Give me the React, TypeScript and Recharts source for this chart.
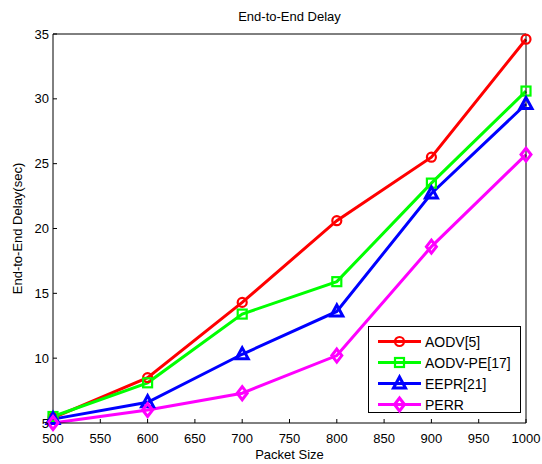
import React from 'react';
import { LineChart, Line, XAxis, YAxis } from 'recharts';

const packetSizes = [500, 600, 700, 800, 900, 1000];
const aodv = [5.4, 8.5, 14.3, 20.6, 25.5, 34.6];
const aodvPe = [5.5, 8.1, 13.4, 15.9, 23.5, 30.6];
const eepr = [5.3, 6.6, 10.3, 13.6, 22.7, 29.6];
const perr = [5.0, 6.0, 7.3, 10.2, 18.6, 25.7];

const xTicks = [500, 550, 600, 650, 700, 750, 800, 850, 900, 950, 1000];
const yTicks = [5, 10, 15, 20, 25, 30, 35];

const FONT = '"Liberation Sans", Arial, sans-serif';

type Marker = 'circle' | 'square' | 'triangle' | 'diamond';

const series: { key: string; name: string; color: string; marker: Marker }[] = [
  { key: 'aodv', name: 'AODV[5]', color: '#ff0000', marker: 'circle' },
  { key: 'aodvPe', name: 'AODV-PE[17]', color: '#00ff00', marker: 'square' },
  { key: 'eepr', name: 'EEPR[21]', color: '#0000ff', marker: 'triangle' },
  { key: 'perr', name: 'PERR', color: '#ff00ff', marker: 'diamond' },
];

const data = packetSizes.map((size, i) => ({
  size,
  aodv: aodv[i],
  aodvPe: aodvPe[i],
  eepr: eepr[i],
  perr: perr[i],
}));

function markerShape(marker: Marker, cx: number, cy: number, color: string, key?: React.Key) {
  const common = { stroke: color, strokeWidth: 2.2, fill: 'none' };
  switch (marker) {
    case 'circle':
      return <circle key={key} cx={cx} cy={cy} r={4.5} {...common} />;
    case 'square':
      return <rect key={key} x={cx - 4.5} y={cy - 4.5} width={9} height={9} {...common} />;
    case 'triangle':
      return (
        <polygon
          key={key}
          points={`${cx},${cy - 6.5} ${cx - 6},${cy + 4.5} ${cx + 6},${cy + 4.5}`}
          {...common}
          strokeWidth={3}
        />
      );
    default:
      return (
        <polygon
          key={key}
          points={`${cx},${cy - 6.5} ${cx + 5},${cy} ${cx},${cy + 6.5} ${cx - 5},${cy}`}
          {...common}
          strokeWidth={3}
        />
      );
  }
}

const makeDot = (marker: Marker, color: string) => (props: any) =>
  markerShape(marker, props.cx, props.cy, color, `${marker}-${props.index}`);

const ChartLegend = () => (
  <div
    style={{
      position: 'absolute',
      left: 368,
      top: 326,
      width: 153,
      height: 87,
      boxSizing: 'border-box',
      border: '1px solid #000',
      background: '#fff',
      paddingTop: 4,
      fontFamily: FONT,
      fontSize: 14,
    }}
  >
    {series.map((s) => (
      <div key={s.key} style={{ display: 'flex', alignItems: 'center', height: 21 }}>
        <svg width={56} height={21} style={{ flex: 'none' }}>
          <line x1={9} y1={10.5} x2={52} y2={10.5} stroke={s.color} strokeWidth={3} />
          {markerShape(s.marker, 30.5, 10.5, s.color)}
        </svg>
        <span>{s.name}</span>
      </div>
    ))}
  </div>
);

export default function App() {
  const tickStyle = { fontFamily: FONT, fontSize: 13, fill: '#000' };
  const labelStyle = { fontFamily: FONT, fontSize: 13, fill: '#000' };
  return (
    <div style={{ position: 'absolute', left: 0, top: 0, width: 542, height: 464, background: '#fff' }}>
      <LineChart
        width={542}
        height={464}
        data={data}
        margin={{ top: 33, right: 15, bottom: 40, left: 52 }}
      >
        <XAxis
          dataKey="size"
          type="number"
          domain={[500, 1000]}
          ticks={xTicks}
          height={1}
          tickSize={-4}
          tickMargin={15}
          tick={tickStyle}
          axisLine={{ stroke: '#000' }}
          tickLine={{ stroke: '#000' }}
          label={{ value: 'Packet Size', position: 'bottom', offset: 26, style: labelStyle }}
        />
        <XAxis
          xAxisId="top"
          orientation="top"
          dataKey="size"
          type="number"
          domain={[500, 1000]}
          ticks={xTicks}
          height={1}
          tickSize={-4}
          tick={false}
          axisLine={{ stroke: '#000' }}
          tickLine={{ stroke: '#000' }}
          label={{ value: 'End-to-End Delay', position: 'top', offset: 12, style: labelStyle }}
        />
        <YAxis
          type="number"
          domain={[5, 35]}
          ticks={yTicks}
          width={1}
          tickSize={-4}
          tickMargin={8}
          tick={tickStyle}
          axisLine={{ stroke: '#000' }}
          tickLine={{ stroke: '#000' }}
          label={{
            value: 'End-to-End Delay(sec)',
            content: (p: any) => {
              const vb = p.viewBox || { x: 53, y: 34, height: 389 };
              const x = 17.5;
              const y = vb.y + vb.height / 2;
              return (
                <text
                  x={x}
                  y={y}
                  transform={`rotate(-90 ${x} ${y})`}
                  textAnchor="middle"
                  dominantBaseline="central"
                  style={labelStyle}
                >
                  End-to-End Delay(sec)
                </text>
              );
            },
          }}
        />
        <YAxis
          yAxisId="right"
          orientation="right"
          type="number"
          domain={[5, 35]}
          ticks={yTicks}
          width={1}
          tickSize={-4}
          tick={false}
          axisLine={{ stroke: '#000' }}
          tickLine={{ stroke: '#000' }}
        />
        {series.map((s) => (
          <Line
            key={s.key}
            dataKey={s.key}
            name={s.name}
            stroke={s.color}
            strokeWidth={3}
            dot={makeDot(s.marker, s.color)}
            activeDot={false}
            isAnimationActive={false}
          />
        ))}
      </LineChart>
      <ChartLegend />
    </div>
  );
}
